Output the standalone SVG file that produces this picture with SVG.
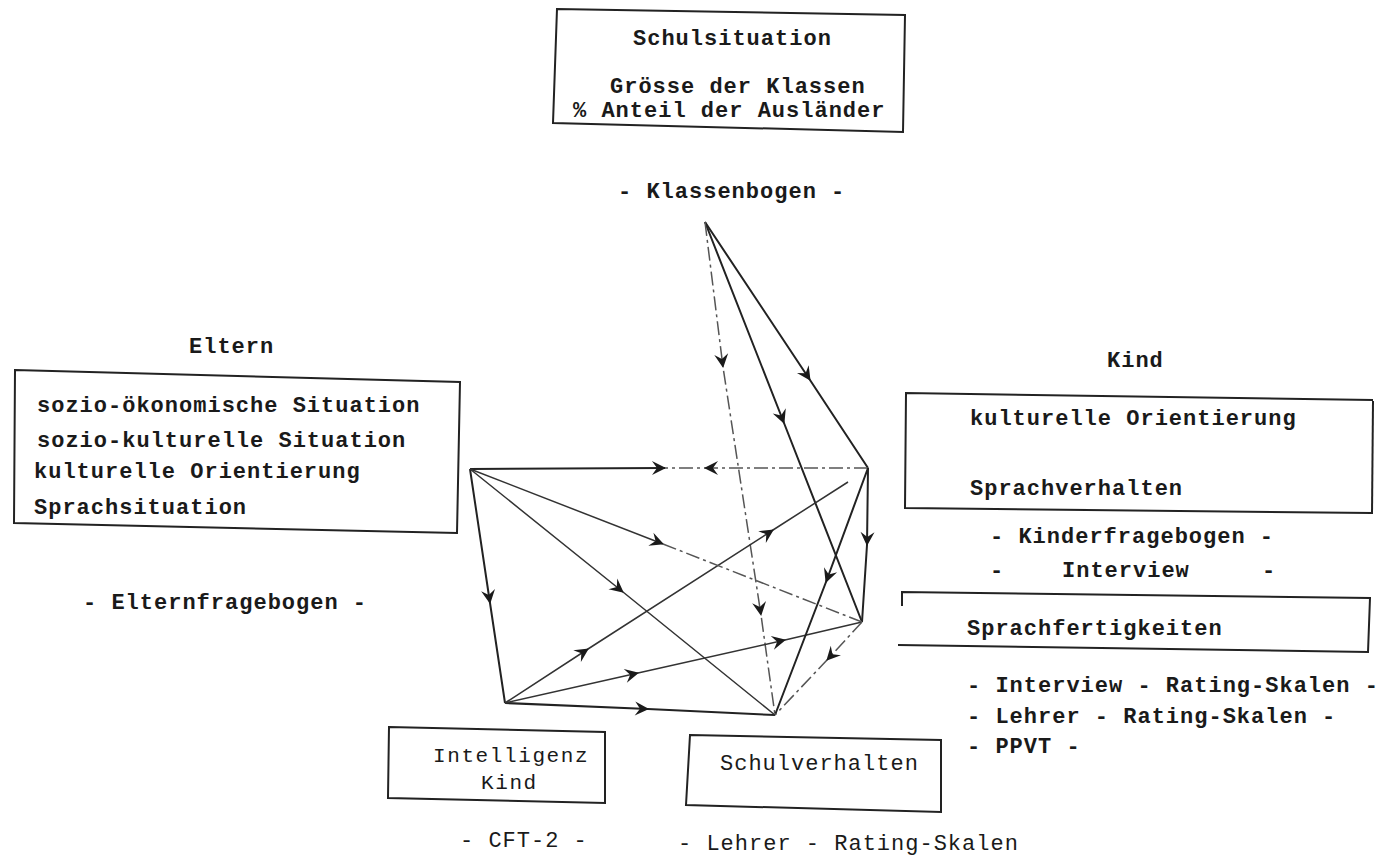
<svg xmlns="http://www.w3.org/2000/svg" width="1379" height="861" viewBox="0 0 1379 861">
<style>
.t{font-family:"Liberation Mono","DejaVu Sans Mono",monospace;font-size:22px;font-weight:bold;letter-spacing:1px;fill:#1a1a1a}
.n{font-weight:normal}
.s{font-size:21px;letter-spacing:1.6px}
.box{fill:none;stroke:#222;stroke-width:2}
.c{fill:none;stroke:#222;stroke-width:2}
.th{stroke-width:1.5;stroke:#333}
.dd{stroke-dasharray:14 4 3 4;stroke:#555;stroke-width:1.5}
</style>
<defs>
<marker id="a" markerUnits="userSpaceOnUse" markerWidth="16" markerHeight="16" refX="0" refY="0" orient="auto" overflow="visible">
<path d="M1,0 L-13,-7 L-8,0 L-13,7 Z" fill="#1a1a1a"/>
</marker>
</defs>
<rect width="1379" height="861" fill="#fff"/>

<g id="connectors">
<polyline class="c" points="705,222 810,380 868,468" marker-mid="url(#a)"/>
<polyline class="c" points="705,222 784,423 862,622" marker-mid="url(#a)"/>
<polyline class="c dd" points="705,222 723,367 761,615 775,715" marker-mid="url(#a)"/>
<polyline class="c" points="470,469 665,468" marker-end="url(#a)"/>
<polyline class="c dd" points="868,468 705,468 665,468" marker-mid="url(#a)"/>
<polyline class="c" points="868,468 867,545 862,622" marker-mid="url(#a)"/>
<polyline class="c" points="470,469 490,603 505,703" marker-mid="url(#a)"/>
<polyline class="c" points="505,703 648,709 775,715" marker-mid="url(#a)"/>
<polyline class="c th" points="505,703 638,673 785,640 862,622" marker-mid="url(#a)"/>
<polyline class="c th" points="505,703 588,649 773,530 848,482" marker-mid="url(#a)"/>
<polyline class="c th" points="470,469 663,544" marker-end="url(#a)"/>
<polyline class="c dd" points="663,544 862,622"/>
<polyline class="c th" points="470,469 623,592 775,715" marker-mid="url(#a)"/>
<polyline class="c" points="868,468 826,582 775,715" marker-mid="url(#a)"/>
<polyline class="c dd" points="862,622 827,660 775,715" marker-mid="url(#a)"/>
</g>

<g id="schulsituation">
<polygon class="box" points="557,9 905,15 903,132 553,123"/>
<text class="t" x="633" y="45">Schulsituation</text>
<text class="t" x="610" y="93">Grösse der Klassen</text>
<text class="t" x="573" y="117">% Anteil der Ausländer</text>
<text class="t" x="618" y="198">- Klassenbogen -</text>
</g>

<g id="eltern">
<text class="t" x="189" y="353">Eltern</text>
<polygon class="box" points="15,370 460,382 457,533 14,523"/>
<text class="t" x="37" y="412">sozio-ökonomische Situation</text>
<text class="t" x="37" y="447">sozio-kulturelle Situation</text>
<text class="t" x="34" y="478">kulturelle Orientierung</text>
<text class="t" x="34" y="514">Sprachsituation</text>
<text class="t" x="83" y="609">- Elternfragebogen -</text>
</g>

<g id="kind">
<text class="t" x="1107" y="367">Kind</text>
<path class="box" d="M1373,400 L906,393 L905,508 L1372,513"/>
<path class="box" d="M1373,401 L1372,514" stroke-width="3"/>
<text class="t" x="970" y="425">kulturelle Orientierung</text>
<text class="t" x="970" y="495">Sprachverhalten</text>
<text class="t" x="990" y="543">- Kinderfragebogen -</text>
<text class="t" x="990" y="577">-</text>
<text class="t" x="1062" y="577">Interview</text>
<text class="t" x="1262" y="577">-</text>
</g>

<g id="sprachfertigkeiten">
<path class="box" d="M902,606 L902,592 L1370,598 L1368,652 L898,645"/>
<text class="t" x="967" y="635">Sprachfertigkeiten</text>
<text class="t" x="967" y="692">- Interview - Rating-Skalen -</text>
<text class="t" x="967" y="723">- Lehrer - Rating-Skalen -</text>
<text class="t" x="967" y="753">- PPVT -</text>
</g>

<g id="intelligenz">
<polygon class="box" points="389,727 605,732 605,803 388,798"/>
<text class="t n s" x="433" y="762">Intelligenz</text>
<text class="t n s" x="481" y="789">Kind</text>
<text class="t n" x="460" y="847">- CFT-2 -</text>
</g>

<g id="schulverhalten">
<polygon class="box" points="690,735 941,740 941,812 686,805"/>
<text class="t n" x="720" y="770">Schulverhalten</text>
<text class="t n" x="678" y="850">- Lehrer - Rating-Skalen</text>
</g>
</svg>
